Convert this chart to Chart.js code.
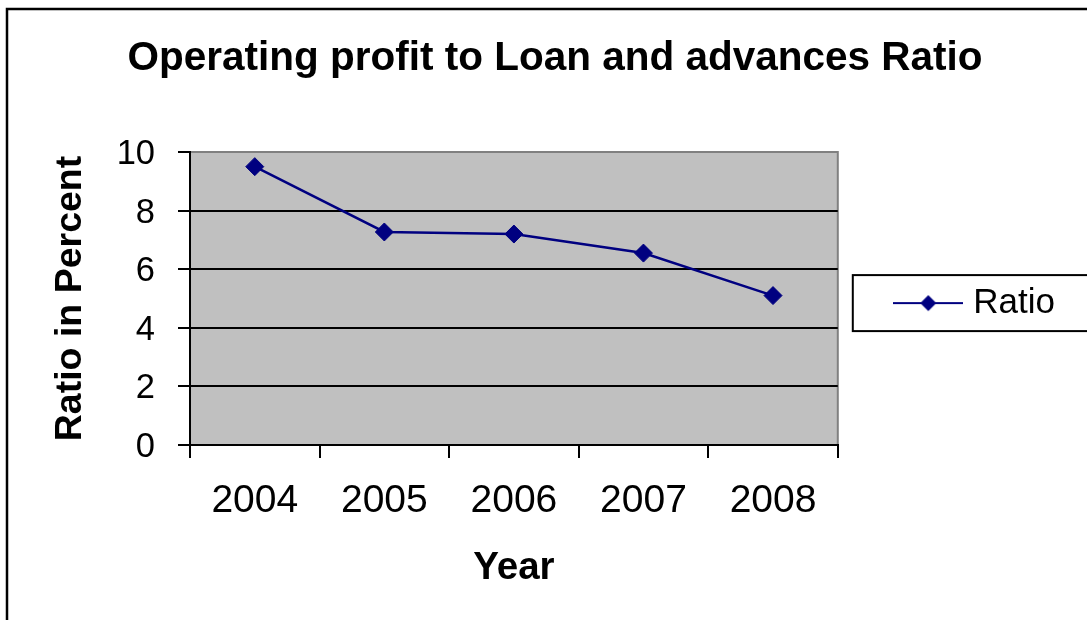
<!DOCTYPE html>
<html>
<head>
<meta charset="utf-8">
<script src="https://cdn.jsdelivr.net/npm/chart.js@4.4.0/dist/chart.umd.min.js"></script>
<style>
  html, body { margin: 0; padding: 0; background: #fff; }
  canvas { display: block; }
</style>
</head>
<body>
<canvas id="ratioChart" width="1087" height="620"></canvas>
<script>
// --- datos del gráfico ---
const years = ['2004', '2005', '2006', '2007', '2008'];
const ratioValues = [9.5, 7.27, 7.2, 6.55, 5.1];
const yTicks = [0, 2, 4, 6, 8, 10];

const FONT = "'Liberation Sans', Arial, sans-serif";
const NAVY = '#000080';

// marcador de la leyenda: línea con rombo
function makeLegendMarker() {
    const c = document.createElement('canvas');
    c.width = 70;
    c.height = 20;
    const g = c.getContext('2d');
    g.strokeStyle = NAVY;
    g.lineWidth = 2;
    g.beginPath();
    g.moveTo(0, 10);
    g.lineTo(70, 10);
    g.stroke();
    g.fillStyle = NAVY;
    g.beginPath();
    g.moveTo(35, 2);
    g.lineTo(43, 10);
    g.lineTo(35, 18);
    g.lineTo(27, 10);
    g.closePath();
    g.fill();
    return c;
}

// fondo gris del área de trazado, marco exterior y marco de la leyenda
const decorPlugin = {
    id: 'decor',
    beforeDraw(chart) {
        const { ctx, chartArea: a } = chart;
        ctx.save();
        ctx.fillStyle = '#fff';
        ctx.fillRect(0, 0, chart.width, chart.height);
        ctx.fillStyle = '#c0c0c0';
        ctx.fillRect(a.left, a.top, a.right - a.left, a.bottom - a.top);
        ctx.strokeStyle = '#808080';
        ctx.lineWidth = 2;
        ctx.strokeRect(a.left, a.top, a.right - a.left, a.bottom - a.top);
        ctx.restore();
    },
    afterDraw(chart) {
        const ctx = chart.ctx;
        ctx.save();
        ctx.strokeStyle = '#000';
        ctx.lineWidth = 2.5;
        ctx.strokeRect(7, 9, chart.width + 20, chart.height + 20);
        const hb = chart.legend.legendHitBoxes[0];
        if (hb) {
            const cy = hb.top + hb.height / 2;
            ctx.lineWidth = 2;
            ctx.strokeRect(hb.left - 48, cy - 28, chart.width, 56);
        }
        ctx.restore();
    }
};

new Chart(document.getElementById('ratioChart'), {
    type: 'line',
    data: {
        labels: years,
        datasets: [{
            label: 'Ratio',
            data: ratioValues,
            borderColor: NAVY,
            backgroundColor: NAVY,
            borderWidth: 2.5,
            tension: 0,
            pointStyle: 'rectRot',
            pointRadius: 9,
            pointBackgroundColor: NAVY,
            pointBorderColor: NAVY,
            pointBorderWidth: 1
        }]
    },
    options: {
        responsive: false,
        animation: false,
        layout: { padding: { left: 45, right: 22, top: 0, bottom: 0 } },
        plugins: {
            title: {
                display: true,
                text: 'Operating profit to Loan and advances Ratio',
                color: '#000',
                font: { family: FONT, size: 40.5, weight: 'bold', lineHeight: 1.2 },
                padding: { top: 35, bottom: 68.4 }
            },
            legend: {
                position: 'right',
                fullSize: false,
                // título vacío para bajar un poco la entrada de la leyenda
                title: { display: true, text: ' ', font: { size: 1 }, padding: { top: 8, bottom: 0 } },
                labels: {
                    usePointStyle: true,
                    pointStyle: makeLegendMarker(),
                    pointStyleWidth: 55,
                    padding: 63,
                    color: '#000',
                    font: { family: FONT, size: 35 }
                }
            },
            tooltip: { enabled: false }
        },
        scales: {
            x: {
                offset: true,
                grid: {
                    offset: true,
                    drawOnChartArea: false,
                    color: '#000',
                    lineWidth: 2,
                    tickLength: 13
                },
                border: { color: '#000', width: 2 },
                ticks: {
                    color: '#000',
                    padding: 20,
                    font: { family: FONT, size: 39 }
                },
                title: {
                    display: true,
                    text: 'Year',
                    color: '#000',
                    font: { family: FONT, size: 38.5, weight: 'bold', lineHeight: 1.2 },
                    padding: { top: 0, bottom: 29 }
                },
                afterFit(scale) { scale.height = 175; }
            },
            y: {
                min: 0,
                max: 10,
                afterBuildTicks(scale) {
                    scale.ticks = yTicks.map(v => ({ value: v }));
                },
                grid: {
                    color: (c) => (c.tick && c.tick.value === 10 ? 'rgba(0,0,0,0)' : '#000'),
                    tickColor: '#000',
                    lineWidth: 2,
                    tickLength: 12
                },
                border: { color: '#000', width: 2 },
                ticks: {
                    color: '#000',
                    padding: 23,
                    labelOffset: 2.5,
                    font: { family: FONT, size: 34.5 }
                },
                title: {
                    display: true,
                    text: 'Ratio in Percent',
                    color: '#000',
                    font: { family: FONT, size: 37.5, weight: 'bold', lineHeight: 1.0 },
                    padding: { top: 7, bottom: 0 }
                },
                afterFit(scale) { scale.width = 145; }
            }
        }
    },
    plugins: [decorPlugin]
});
</script>
</body>
</html>
